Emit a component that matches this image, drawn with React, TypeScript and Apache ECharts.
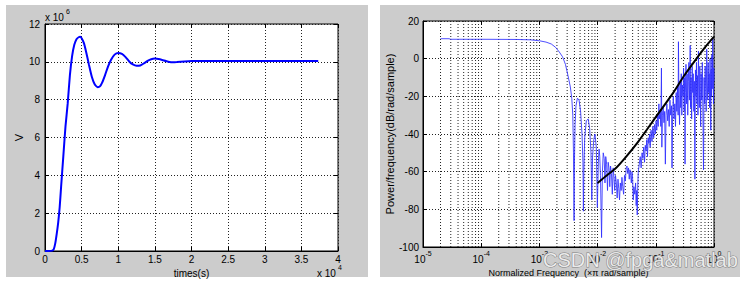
import React, { useEffect, useRef } from 'react';
import * as echarts from 'echarts';

// Left panel: step response (time in units of 1e4 s, value in units of 1e6 V)
const stepT = [0, 0.05, 0.1, 0.12, 0.14, 0.16, 0.18, 0.2, 0.22, 0.25, 0.28, 0.31, 0.34, 0.37, 0.4, 0.43, 0.46, 0.48, 0.5, 0.53, 0.56, 0.6, 0.64, 0.68, 0.72, 0.75, 0.78, 0.82, 0.86, 0.9, 0.95, 1.0, 1.05, 1.1, 1.15, 1.2, 1.25, 1.3, 1.35, 1.4, 1.45, 1.5, 1.55, 1.6, 1.65, 1.7, 1.75, 1.8, 1.9, 2.0, 2.2, 2.5, 2.8, 3.1, 3.4, 3.73];
const stepV = [0, 0, 0.02, 0.1, 0.4, 0.9, 1.5, 2.3, 3.4, 5.0, 6.6, 7.8, 9.3, 10.3, 10.9, 11.2, 11.3, 11.32, 11.25, 11.0, 10.55, 9.85, 9.2, 8.8, 8.66, 8.7, 8.9, 9.3, 9.75, 10.1, 10.38, 10.47, 10.42, 10.25, 10.02, 9.86, 9.79, 9.81, 9.92, 10.05, 10.14, 10.17, 10.15, 10.1, 10.04, 9.99, 9.98, 9.99, 10.02, 10.04, 10.05, 10.04, 10.05, 10.04, 10.05, 10.04];

// Right panel: PSD (normalized frequency, dB/rad/sample)
const psdFreq = [
  2e-5, 2.8e-5, 3e-5, 1e-4, 4e-4, 7e-4, 1e-3, 1.3e-3, 1.6e-3, 1.9e-3, 2.2e-3, 2.5e-3, 2.8e-3, 3.1e-3, 3.4e-3, 3.6e-3, 3.75e-3, 3.85e-3, 3.94e-3, 4.0e-3, 4.1e-3, 4.25e-3, 4.5e-3, 4.8e-3, 5.1e-3, 5.4e-3, 5.6e-3, 5.7e-3, 5.8e-3, 6.0e-3, 6.4e-3, 6.9e-3, 7.3e-3, 7.7e-3, 7.95e-3, 8.2e-3, 8.6e-3, 9.0e-3, 9.5e-3, 9.9e-3,
  1.03e-2, 1.06e-2, 1.09e-2, 1.12e-2, 1.17e-2, 1.21e-2, 1.25e-2, 1.3e-2, 1.34e-2, 1.38e-2, 1.43e-2, 1.48e-2, 1.52e-2, 1.57e-2, 1.62e-2, 1.67e-2, 1.73e-2, 1.79e-2, 1.85e-2, 1.91e-2, 1.97e-2, 2.03e-2, 2.1e-2, 2.17e-2, 2.24e-2, 2.31e-2, 2.38e-2, 2.46e-2, 2.54e-2, 2.62e-2, 2.7e-2, 2.8e-2, 2.9e-2, 3.0e-2, 3.1e-2, 3.2e-2, 3.3e-2, 3.4e-2, 3.5e-2, 3.6e-2, 3.7e-2, 3.8e-2, 3.9e-2, 4.0e-2, 4.1e-2, 4.2e-2, 4.35e-2, 4.5e-2, 4.6e-2, 4.7e-2, 4.8e-2, 4.9e-2, 5.0e-2,
  5.2e-2, 5.4e-2, 5.6e-2, 5.8e-2, 6.0e-2, 6.2e-2, 6.4e-2, 6.6e-2, 6.8e-2, 7.0e-2, 7.2e-2, 7.4e-2, 7.6e-2, 7.8e-2, 8.0e-2, 8.3e-2, 8.6e-2, 8.9e-2, 9.2e-2, 9.5e-2, 9.8e-2,
  0.101, 0.104, 0.107, 0.11, 0.113, 0.116, 0.119, 0.122, 0.125, 0.127, 0.13, 0.134, 0.138, 0.142, 0.146, 0.15, 0.155, 0.16, 0.165, 0.17, 0.175, 0.18, 0.186, 0.19, 0.195, 0.2, 0.206, 0.212, 0.218, 0.224, 0.23, 0.236, 0.242, 0.245, 0.25,
  0.256, 0.262, 0.268, 0.274, 0.28, 0.287, 0.294, 0.3, 0.307, 0.314, 0.318, 0.322, 0.33, 0.338, 0.346, 0.354, 0.362, 0.37, 0.378, 0.386, 0.39, 0.395, 0.404, 0.413, 0.422, 0.431, 0.44, 0.45, 0.46, 0.47, 0.48, 0.49, 0.5, 0.51, 0.52, 0.53, 0.54, 0.55, 0.56, 0.57, 0.58, 0.59, 0.6, 0.615, 0.63, 0.645, 0.66, 0.675, 0.69, 0.705, 0.72, 0.735, 0.75, 0.765, 0.78, 0.795, 0.81, 0.825, 0.84, 0.855, 0.87, 0.88, 0.89, 0.905, 0.92, 0.935, 0.95, 0.965, 0.98, 0.99, 1.0,
];
const psdDb = [
  10.6, 10.6, 10.3, 10.3, 10.2, 10.0, 9.5, 8.8, 7.8, 6.0, 3.5, 1.0, -3, -9, -15, -21, -30, -50, -86, -55, -35, -25, -21, -22, -28, -40, -55, -81, -60, -42, -33, -32, -37, -50, -75, -52, -43, -40, -47, -79,
  -55, -48, -52, -62, -95, -60, -50, -53, -66, -52, -56, -70, -55, -58, -68, -57, -61, -72, -58, -63, -70, -62, -66, -74, -64, -69, -75, -66, -70, -63, -68, -72, -62, -65, -58, -57, -61, -58, -64, -59, -62, -66, -60, -64, -75, -68, -72, -66, -78, -70, -83, -68, -60,
  -56, -52, -58, -50, -53, -47, -55, -46, -49, -43, -52, -42, -45, -40, -47, -38, -44, -36, -42, -35, -40,
  -33, -38, -30, -36, -24, -32, -28, -36, -5, -47, -30, -26, -34, -28, -56, -30, -24, -33, -27, -36, -22, -30, -25, -58, -28, -20, -32, -24, -36, -18, -28, -14, -30, 9, -22,
  -35, -12, -26, -8, -30, -14, -20, -5, -28, -10, -56, -18, -3, -24, -8, -30, -12, -2, -22, -6, 7, -26, -10, -32, -4, -18, -8, -28, -12, -64, -6, -20, -2, -24, -9, -30, 4, -14, -26, -4, -18, -36, -8, -22, -2, -30, -59, -10, -24, -4, -16, -28, 5, -12, -22, -2, -18, -8, -26, 0, -14, -38, -6, -20, 2, -16, 10.7, -10, -24, -5, -12,
];

// Black reference slope line
const slopeFreq = [0.01, 0.015, 0.02, 0.03, 0.05, 0.1, 0.2, 0.3, 0.5, 0.7, 1.0];
const slopeDb = [-66, -61.5, -58.5, -52.5, -44, -31, -18, -9.5, 0, 6, 11.7];

// Log-axis minor grid positions (mantissas per decade)
const decades = [1e-5, 1e-4, 1e-3, 1e-2, 1e-1];
const mantissas = [2, 3, 4, 5, 6, 7, 8, 9];
const psdYMin = -100;
const psdYMax = 20;

const FONT = 'Liberation Sans, Arial, sans-serif';
const GRID_LINE = { type: [1, 2] as any, color: '#222', width: 1 };

export default function App() {
  const ref = useRef<HTMLDivElement>(null);
  useEffect(() => {
    if (!ref.current) return;
    const chart = echarts.init(ref.current, undefined, { renderer: 'svg' });
    // minor vertical grid lines of the log axis, as broken segments
    const minorGrid: any[] = [];
    decades.forEach((d) =>
      mantissas.forEach((m) => {
        const f = d * m;
        minorGrid.push([f, psdYMin], [f, psdYMax], [f, '-']);
      })
    );
    const labelCommon = { color: '#000', fontSize: 10, fontFamily: FONT };
    const axisLine = { onZero: false, lineStyle: { color: '#000' } };
    const axisTick = { inside: true, length: 4, lineStyle: { color: '#000' } };
    const mirror = {
      axisLine: { show: false, onZero: false },
      axisTick: { inside: true, length: 4, lineStyle: { color: '#000' } },
      axisLabel: { show: false },
      splitLine: { show: false },
    };
    const option: any = {
      animation: false,
      backgroundColor: '#fff',
      graphic: [
        { type: 'rect', z: -10, shape: { x: 6, y: 5, width: 362, height: 272 }, style: { fill: '#cccccc' } },
        { type: 'rect', z: -10, shape: { x: 380, y: 5, width: 360, height: 272 }, style: { fill: '#cccccc' } },
        { type: 'text', x: 45, y: 12, z: 10, style: { text: 'x 10', fill: '#000', fontSize: 10, fontFamily: FONT } },
        { type: 'text', x: 66, y: 8, z: 10, style: { text: '6', fill: '#000', fontSize: 7, fontFamily: FONT } },
        { type: 'text', x: 317, y: 268, z: 10, style: { text: 'x 10', fill: '#000', fontSize: 10, fontFamily: FONT } },
        { type: 'text', x: 338, y: 264, z: 10, style: { text: '4', fill: '#000', fontSize: 7, fontFamily: FONT } },
        {
          type: 'text', x: 543, y: 250, z: 100,
          style: { text: 'CSDN @fpga&matlab', fill: 'rgba(255,255,255,0.8)', stroke: '#808080', lineWidth: 1, fontSize: 20, fontFamily: FONT },
        },
      ],
      grid: [
        { left: 45, top: 24, width: 293, height: 227, show: true, backgroundColor: '#fff', borderColor: '#000', borderWidth: 1, containLabel: false, outerBoundsMode: 'none' },
        { left: 423, top: 21, width: 291, height: 226, show: true, backgroundColor: '#fff', borderColor: '#000', borderWidth: 1, containLabel: false, outerBoundsMode: 'none' },
      ],
      xAxis: [
        {
          gridIndex: 0, type: 'value', min: 0, max: 4, interval: 0.5,
          name: 'times(s)', nameLocation: 'middle', nameGap: 13,
          nameTextStyle: { ...labelCommon },
          axisLine, axisTick,
          axisLabel: { ...labelCommon, margin: 3 },
          splitLine: { show: true, lineStyle: GRID_LINE },
        },
        {
          gridIndex: 1, type: 'log', logBase: 10, min: 1e-5, max: 1, splitNumber: 5,
          name: 'Normalized Frequency  (\u00d7\u03c0 rad/sample)', nameLocation: 'middle', nameGap: 17,
          nameTextStyle: { ...labelCommon, fontSize: 9 },
          axisLine, axisTick,
          axisLabel: {
            ...labelCommon, margin: 3,
            formatter: (v: number) => `{b|10}{s|${Math.round(Math.log10(v))}}`,
            rich: {
              b: { fontSize: 10, fontFamily: FONT, color: '#000', verticalAlign: 'bottom', lineHeight: 14 },
              s: { fontSize: 7, fontFamily: FONT, color: '#000', verticalAlign: 'top', lineHeight: 14 },
            },
          },
          splitLine: { show: true, lineStyle: GRID_LINE },
        },
        { gridIndex: 0, type: 'value', position: 'top', min: 0, max: 4, interval: 0.5, ...mirror },
        { gridIndex: 1, type: 'log', logBase: 10, position: 'top', min: 1e-5, max: 1, splitNumber: 5, ...mirror },
      ],
      yAxis: [
        {
          gridIndex: 0, type: 'value', min: 0, max: 12, interval: 2,
          name: 'V', nameLocation: 'middle', nameGap: 19,
          nameTextStyle: { ...labelCommon, fontSize: 11 },
          axisLine, axisTick,
          axisLabel: { ...labelCommon, margin: 5 },
          splitLine: { show: true, lineStyle: GRID_LINE },
        },
        {
          gridIndex: 1, type: 'value', min: psdYMin, max: psdYMax, interval: 20,
          name: 'Power/frequency(dB/rad/sample)', nameLocation: 'middle', nameGap: 24,
          nameTextStyle: { ...labelCommon, fontSize: 11 },
          axisLine, axisTick,
          axisLabel: { ...labelCommon, margin: 4 },
          splitLine: { show: true, lineStyle: GRID_LINE },
        },
        { gridIndex: 0, type: 'value', position: 'right', min: 0, max: 12, interval: 2, ...mirror },
        { gridIndex: 1, type: 'value', position: 'right', min: psdYMin, max: psdYMax, interval: 20, ...mirror },
      ],
      series: [
        {
          type: 'line', xAxisIndex: 0, yAxisIndex: 0, symbol: 'none', smooth: 0.2,
          lineStyle: { color: '#0000ff', width: 2 },
          data: stepT.map((t, i) => [t, stepV[i]]),
        },
        {
          type: 'line', xAxisIndex: 1, yAxisIndex: 1, symbol: 'none', silent: true, connectNulls: false,
          lineStyle: GRID_LINE,
          data: minorGrid,
        },
        {
          type: 'line', xAxisIndex: 1, yAxisIndex: 1, symbol: 'none',
          lineStyle: { color: '#2f2fff', width: 1, opacity: 0.85 },
          data: psdFreq.map((f, i) => [f, psdDb[i]]),
        },
        {
          type: 'line', xAxisIndex: 1, yAxisIndex: 1, symbol: 'none', smooth: 0.3,
          lineStyle: { color: '#000', width: 2 },
          data: slopeFreq.map((f, i) => [f, slopeDb[i]]),
        },
      ],
    };
    chart.setOption(option);
    return () => chart.dispose();
  }, []);
  return <div ref={ref} style={{ position: 'absolute', left: 0, top: 0, width: 743, height: 281 }} />;
}
